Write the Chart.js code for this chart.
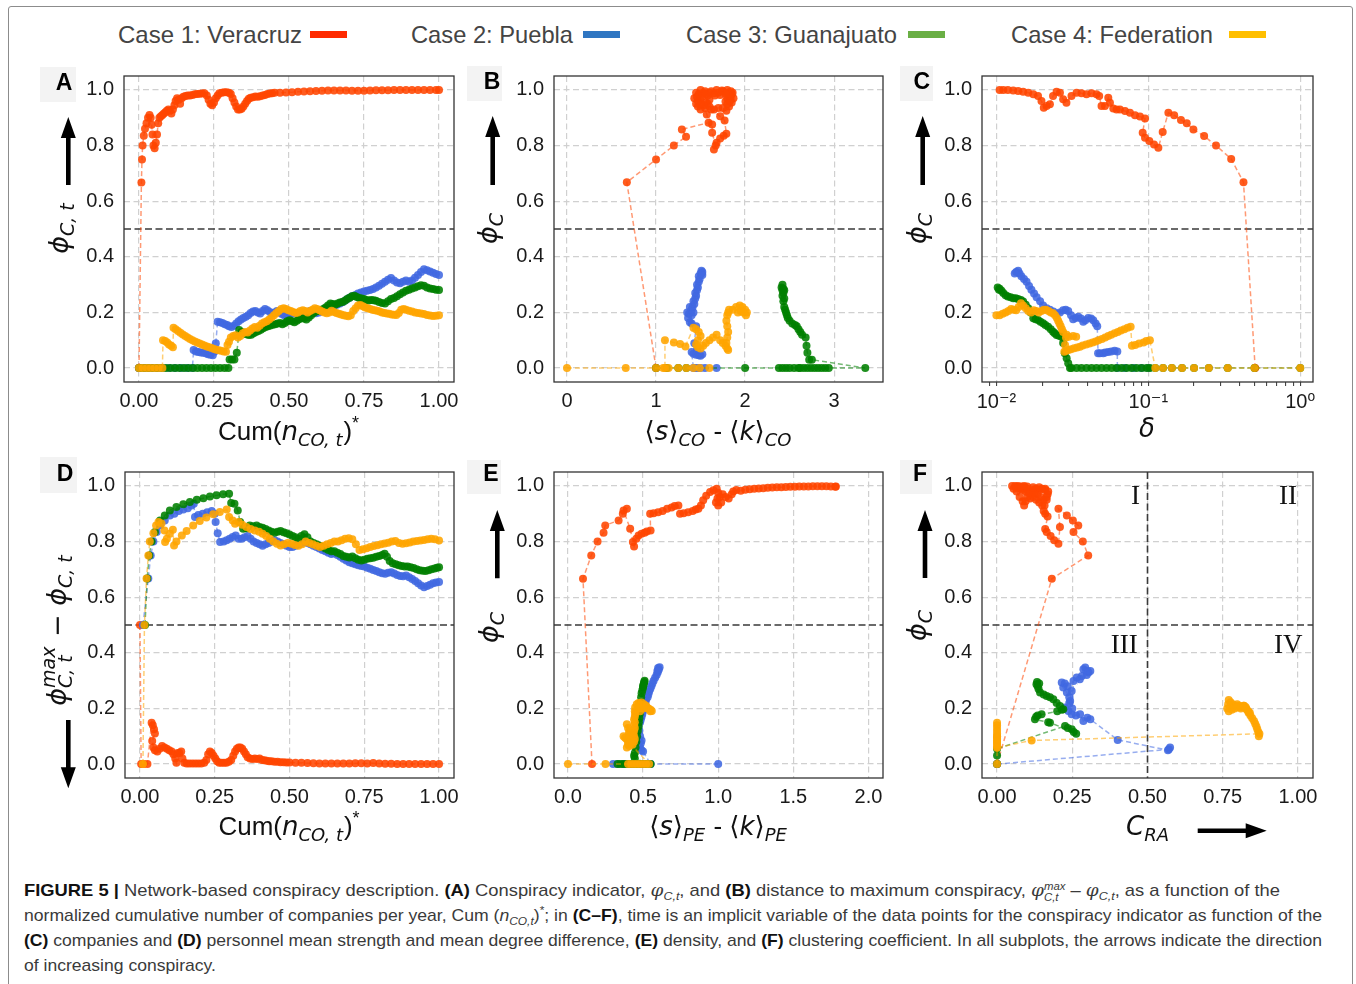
<!DOCTYPE html>
<html>
<head>
<meta charset="utf-8">
<script src="https://cdn.jsdelivr.net/npm/chart.js"></script>
<style>
  body { margin: 0; background: #fff; }
  #fig { position: relative; width: 1356px; height: 984px; overflow: hidden; background: #fff; }
  .frame { position: absolute; left: 8px; top: 6px; width: 1343px; height: 1000px; border: 1px solid #8c8c8c; border-radius: 3px; }
  .lg { position: absolute; top: 21px; font: 24px/28px "Liberation Sans Narrow", "Liberation Sans", Arial, sans-serif; color: #444; white-space: nowrap; transform-origin: 0 50%; }
  .sw { position: absolute; top: 31px; width: 37px; height: 7px; }
  .cap { position: absolute; left: 24px; white-space: nowrap; font: 17px/20px "Liberation Sans Narrow", "Liberation Sans", Arial, sans-serif; color: #3a3a3a; transform-origin: 0 50%; }
  .cap b { color: #111; }
  .cap sub, .cap sup { font-size: 0.68em; line-height: 0; }
  .cap .m { font-family: "DejaVu Serif", serif; font-style: italic; }
  .ss { display: inline-flex; flex-direction: column; vertical-align: middle; font-size: 0.62em; line-height: 1; font-style: italic; }
</style>
</head>
<body>
<div id="fig">
  <div class="frame"></div>

  <span class="lg" id="lg1" style="left:118px">Case 1: Veracruz</span>
  <div class="sw" style="left:310px;background:#ff2a00"></div>
  <span class="lg" id="lg2" style="left:411px">Case 2: Puebla</span>
  <div class="sw" style="left:583px;background:#2f76c2"></div>
  <span class="lg" id="lg3" style="left:686px">Case 3: Guanajuato</span>
  <div class="sw" style="left:908px;background:#6aaf45"></div>
  <span class="lg" id="lg4" style="left:1011px">Case 4: Federation</span>
  <div class="sw" style="left:1229px;background:#ffbf00"></div>

  <div class="cap" id="cap1" style="top:880px"><b>FIGURE 5 |</b> Network-based conspiracy description. <b>(A)</b> Conspiracy indicator, <i class="m">φ</i><sub><i>C,t</i></sub>, and <b>(B)</b> distance to maximum conspiracy, <i class="m">φ</i><span class="ss"><span>max</span><span>C,t</span></span> – <i class="m">φ</i><sub><i>C,t</i></sub>, as a function of the</div>
  <div class="cap" id="cap2" style="top:906px">normalized cumulative number of companies per year, Cum (<i>n</i><sub><i>CO,t</i></sub>)<sup>*</sup>; in <b>(C–F)</b>, time is an implicit variable of the data points for the conspiracy indicator as function of the</div>
  <div class="cap" id="cap3" style="top:931px"><b>(C)</b> companies and <b>(D)</b> personnel mean strength and mean degree difference, <b>(E)</b> density, and <b>(F)</b> clustering coefficient. In all subplots, the arrows indicate the direction</div>
  <div class="cap" id="cap4" style="top:956px">of increasing conspiracy.</div>
</div>

<script>
// ---- data: [x, y] per case ----
const A_VERACRUZ = [[0,0],[0.008,0.667],[0.01,0.75],[0.012,0.8],[0.016,0.835],[0.02,0.86],[0.025,0.88],[0.03,0.9],[0.035,0.91],[0.039,0.9],[0.042,0.875],[0.045,0.84],[0.048,0.8],[0.052,0.79],[0.056,0.81],[0.06,0.84],[0.064,0.88],[0.068,0.9],[0.073,0.905],[0.078,0.91],[0.083,0.915],[0.088,0.92],[0.093,0.925],[0.098,0.93],[0.103,0.925],[0.108,0.915],[0.113,0.93],[0.118,0.945],[0.122,0.96],[0.127,0.97],[0.132,0.965],[0.137,0.95],[0.142,0.97],[0.148,0.975],[0.155,0.978],[0.162,0.98],[0.17,0.98],[0.178,0.982],[0.186,0.984],[0.194,0.985],[0.202,0.986],[0.21,0.987],[0.218,0.988],[0.226,0.98],[0.232,0.965],[0.238,0.95],[0.244,0.945],[0.25,0.955],[0.256,0.97],[0.262,0.98],[0.268,0.988],[0.276,0.99],[0.284,0.992],[0.292,0.992],[0.3,0.99],[0.306,0.985],[0.312,0.97],[0.318,0.955],[0.324,0.94],[0.33,0.93],[0.336,0.93],[0.342,0.932],[0.348,0.94],[0.354,0.95],[0.36,0.96],[0.366,0.968],[0.372,0.972],[0.38,0.974],[0.388,0.976],[0.396,0.975],[0.404,0.977],[0.412,0.98],[0.42,0.982],[0.428,0.985],[0.436,0.987],[0.444,0.988],[0.452,0.99],[0.47,0.99],[0.49,0.991],[0.51,0.992],[0.53,0.993],[0.55,0.994],[0.57,0.995],[0.59,0.996],[0.61,0.997],[0.63,0.998],[0.65,0.998],[0.67,0.998],[0.69,0.998],[0.71,0.997],[0.73,0.997],[0.75,0.997],[0.77,0.998],[0.79,0.999],[0.81,0.999],[0.83,0.999],[0.85,1],[0.87,1],[0.89,1],[0.91,1],[0.93,1],[0.95,1],[0.97,1],[0.99,1],[1,1]];
const A_PUEBLA = [[0,0],[0.02,0],[0.04,0],[0.06,0],[0.08,0],[0.1,0],[0.12,0],[0.14,0],[0.16,0],[0.178,0],[0.182,0.065],[0.19,0.06],[0.198,0.058],[0.206,0.056],[0.214,0.055],[0.222,0.053],[0.23,0.05],[0.238,0.048],[0.246,0.046],[0.252,0.06],[0.256,0.089],[0.262,0.167],[0.27,0.165],[0.278,0.162],[0.286,0.158],[0.294,0.155],[0.3,0.15],[0.308,0.148],[0.316,0.152],[0.324,0.16],[0.332,0.168],[0.34,0.175],[0.348,0.18],[0.356,0.185],[0.364,0.19],[0.372,0.198],[0.38,0.203],[0.388,0.205],[0.396,0.2],[0.404,0.196],[0.412,0.205],[0.42,0.212],[0.428,0.208],[0.436,0.202],[0.444,0.198],[0.452,0.2],[0.46,0.205],[0.468,0.2],[0.476,0.194],[0.484,0.19],[0.492,0.188],[0.5,0.19],[0.51,0.195],[0.52,0.198],[0.53,0.195],[0.54,0.19],[0.55,0.195],[0.56,0.2],[0.57,0.205],[0.58,0.2],[0.59,0.197],[0.6,0.2],[0.61,0.205],[0.62,0.21],[0.63,0.215],[0.64,0.22],[0.65,0.225],[0.66,0.228],[0.67,0.232],[0.68,0.238],[0.69,0.245],[0.7,0.252],[0.71,0.258],[0.72,0.262],[0.73,0.268],[0.74,0.272],[0.75,0.275],[0.76,0.278],[0.77,0.281],[0.78,0.284],[0.79,0.29],[0.8,0.296],[0.81,0.303],[0.82,0.31],[0.83,0.318],[0.84,0.324],[0.85,0.315],[0.86,0.308],[0.87,0.305],[0.88,0.31],[0.89,0.315],[0.9,0.31],[0.91,0.315],[0.92,0.325],[0.93,0.335],[0.94,0.345],[0.95,0.355],[0.96,0.352],[0.97,0.347],[0.98,0.343],[0.99,0.338],[1,0.335]];
const A_GUANAJUATO = [[0,0],[0.015,0],[0.03,0],[0.045,0],[0.06,0],[0.075,0],[0.09,0],[0.105,0],[0.12,0],[0.135,0],[0.15,0],[0.165,0],[0.18,0],[0.195,0],[0.21,0],[0.225,0],[0.24,0],[0.255,0],[0.27,0],[0.285,0],[0.298,0],[0.302,0.031],[0.31,0.031],[0.318,0.031],[0.326,0.055],[0.334,0.137],[0.342,0.13],[0.35,0.125],[0.358,0.122],[0.366,0.119],[0.374,0.12],[0.382,0.125],[0.39,0.13],[0.398,0.133],[0.406,0.138],[0.414,0.143],[0.422,0.148],[0.43,0.15],[0.438,0.153],[0.446,0.156],[0.454,0.158],[0.462,0.16],[0.47,0.162],[0.478,0.158],[0.486,0.162],[0.494,0.168],[0.502,0.172],[0.51,0.168],[0.518,0.165],[0.526,0.17],[0.534,0.176],[0.542,0.18],[0.55,0.178],[0.558,0.175],[0.566,0.182],[0.574,0.19],[0.582,0.198],[0.59,0.203],[0.598,0.205],[0.606,0.208],[0.614,0.212],[0.622,0.218],[0.63,0.225],[0.638,0.232],[0.646,0.23],[0.654,0.228],[0.662,0.232],[0.67,0.236],[0.678,0.238],[0.686,0.242],[0.694,0.248],[0.702,0.253],[0.71,0.258],[0.718,0.26],[0.726,0.256],[0.734,0.252],[0.742,0.25],[0.75,0.248],[0.758,0.245],[0.766,0.243],[0.774,0.245],[0.782,0.244],[0.79,0.242],[0.8,0.238],[0.81,0.234],[0.82,0.232],[0.83,0.24],[0.84,0.248],[0.85,0.252],[0.86,0.258],[0.87,0.265],[0.88,0.272],[0.89,0.278],[0.9,0.282],[0.91,0.286],[0.92,0.29],[0.93,0.294],[0.94,0.298],[0.95,0.296],[0.96,0.29],[0.97,0.286],[0.98,0.284],[0.99,0.282],[1,0.281]];
const A_FEDERATION = [[0,0],[0.013,0],[0.026,0],[0.039,0],[0.052,0],[0.065,0],[0.078,0],[0.08,0.1],[0.087,0.097],[0.094,0.092],[0.1,0.085],[0.107,0.08],[0.113,0.075],[0.115,0.145],[0.122,0.14],[0.13,0.133],[0.138,0.127],[0.146,0.121],[0.154,0.115],[0.162,0.11],[0.17,0.105],[0.178,0.1],[0.186,0.096],[0.194,0.092],[0.202,0.088],[0.21,0.085],[0.218,0.081],[0.226,0.078],[0.234,0.075],[0.242,0.072],[0.25,0.069],[0.258,0.066],[0.266,0.064],[0.274,0.062],[0.282,0.06],[0.29,0.059],[0.295,0.083],[0.3,0.095],[0.306,0.11],[0.314,0.115],[0.322,0.118],[0.33,0.11],[0.338,0.115],[0.346,0.125],[0.354,0.13],[0.362,0.128],[0.37,0.135],[0.378,0.142],[0.386,0.148],[0.394,0.145],[0.402,0.152],[0.41,0.16],[0.418,0.165],[0.426,0.168],[0.434,0.175],[0.442,0.182],[0.45,0.19],[0.458,0.198],[0.466,0.205],[0.474,0.212],[0.482,0.215],[0.49,0.212],[0.498,0.208],[0.506,0.205],[0.514,0.202],[0.522,0.198],[0.53,0.2],[0.538,0.205],[0.546,0.208],[0.554,0.205],[0.562,0.2],[0.57,0.205],[0.578,0.21],[0.586,0.215],[0.594,0.212],[0.602,0.208],[0.61,0.203],[0.618,0.2],[0.626,0.197],[0.634,0.2],[0.642,0.206],[0.65,0.202],[0.658,0.198],[0.666,0.195],[0.674,0.193],[0.682,0.19],[0.69,0.188],[0.698,0.186],[0.706,0.19],[0.714,0.205],[0.722,0.215],[0.73,0.225],[0.738,0.227],[0.746,0.222],[0.754,0.218],[0.762,0.215],[0.77,0.212],[0.778,0.21],[0.786,0.208],[0.794,0.206],[0.802,0.203],[0.81,0.2],[0.818,0.198],[0.826,0.196],[0.834,0.195],[0.842,0.193],[0.85,0.192],[0.858,0.191],[0.866,0.198],[0.874,0.21],[0.882,0.212],[0.89,0.21],[0.9,0.206],[0.91,0.203],[0.92,0.2],[0.93,0.198],[0.94,0.196],[0.95,0.194],[0.96,0.191],[0.97,0.189],[0.98,0.187],[0.99,0.188],[1,0.19]];

const B_VERACRUZ = [[1,0],[0.672,0.668],[1,0.75],[1.2,0.8],[1.337,0.832],[1.29,0.858],[1.59,0.882],[1.57,0.912],[1.63,0.876],[1.63,0.846],[1.67,0.8],[1.65,0.786],[1.68,0.81],[1.72,0.825],[1.76,0.835],[1.79,0.842],[1.77,0.89],[1.72,0.905],[1.62,0.93],[1.55,0.935],[1.5,0.93],[1.47,0.94],[1.45,0.95],[1.43,0.97],[1.45,0.99],[1.5,1],[1.55,0.995],[1.6,0.99],[1.65,0.988],[1.7,0.99],[1.75,0.995],[1.8,0.99],[1.85,0.985],[1.87,0.97],[1.85,0.955],[1.82,0.94],[1.79,0.925],[1.75,0.935],[1.7,0.935],[1.65,0.93],[1.6,0.94],[1.56,0.955],[1.5,0.965],[1.46,0.975],[1.48,0.985],[1.53,0.99],[1.58,0.98],[1.6,0.965],[1.58,0.95],[1.53,0.945],[1.5,0.95],[1.47,0.96],[1.52,0.975],[1.56,0.985],[1.62,0.995],[1.68,1],[1.74,0.998],[1.8,1],[1.84,0.995],[1.86,0.99],[1.84,0.975],[1.8,0.97],[1.78,0.958],[1.8,0.948],[1.83,0.96],[1.82,0.98],[1.78,0.985],[1.72,0.982],[1.66,0.98]];
const B_PUEBLA = [[1.68,0],[1.55,0],[1.5,0],[1.47,0],[1.44,0],[1.42,0],[1.4,0.058],[1.42,0.052],[1.45,0.048],[1.48,0.046],[1.5,0.044],[1.52,0.05],[1.46,0.065],[1.43,0.089],[1.45,0.15],[1.4,0.16],[1.38,0.165],[1.36,0.18],[1.35,0.2],[1.37,0.195],[1.4,0.19],[1.42,0.2],[1.4,0.21],[1.38,0.22],[1.41,0.22],[1.43,0.23],[1.42,0.24],[1.44,0.25],[1.45,0.26],[1.44,0.27],[1.46,0.28],[1.47,0.29],[1.46,0.3],[1.48,0.31],[1.49,0.32],[1.48,0.33],[1.5,0.34],[1.51,0.35],[1.52,0.345],[1.51,0.34],[1.52,0.335]];
const B_GUANAJUATO = [[1,0],[1.12,0],[1.25,0],[1.34,0],[2,0],[2.38,0],[2.42,0],[2.46,0],[2.5,0],[2.55,0],[2.6,0],[2.62,0],[2.66,0],[2.7,0],[2.74,0],[2.78,0],[2.82,0],[2.86,0],[2.9,0],[2.94,0],[3.35,0],[2.75,0.03],[2.72,0.03],[2.7,0.055],[2.69,0.08],[2.68,0.11],[2.64,0.12],[2.62,0.13],[2.6,0.14],[2.58,0.15],[2.56,0.155],[2.53,0.16],[2.5,0.17],[2.48,0.18],[2.47,0.19],[2.46,0.2],[2.45,0.21],[2.44,0.22],[2.43,0.24],[2.44,0.25],[2.42,0.26],[2.43,0.27],[2.42,0.28],[2.41,0.29],[2.42,0.3],[2.43,0.285],[2.44,0.28]];
const B_FEDERATION = [[0,0],[0.66,0],[1,0],[1.14,0],[1.25,0],[1.34,0],[1.42,0],[1.49,0],[1.6,0],[1.08,0],[1.1,0],[1.1,0.1],[1.2,0.092],[1.27,0.087],[1.33,0.078],[1.42,0.145],[1.45,0.14],[1.48,0.13],[1.5,0.115],[1.47,0.1],[1.45,0.085],[1.47,0.075],[1.5,0.07],[1.53,0.08],[1.56,0.09],[1.6,0.1],[1.64,0.11],[1.68,0.12],[1.72,0.1],[1.75,0.09],[1.78,0.08],[1.8,0.07],[1.81,0.065],[1.79,0.09],[1.8,0.11],[1.81,0.13],[1.8,0.15],[1.79,0.17],[1.8,0.19],[1.81,0.2],[1.82,0.21],[1.86,0.21],[1.9,0.22],[1.94,0.225],[1.97,0.22],[2,0.21],[2.02,0.2],[2.01,0.19],[1.98,0.2],[1.95,0.205],[1.92,0.2]];

const C_VERACRUZ = [[0.505,0],[0.423,0.668],[0.351,0.752],[0.279,0.8],[0.233,0.834],[0.198,0.858],[0.179,0.88],[0.164,0.892],[0.148,0.909],[0.1355,0.918],[0.1243,0.849],[0.1164,0.792],[0.109,0.804],[0.1015,0.816],[0.0951,0.828],[0.0918,0.846],[0.0951,0.897],[0.0881,0.904],[0.0817,0.909],[0.0757,0.918],[0.0702,0.924],[0.065,0.93],[0.0618,0.93],[0.0588,0.933],[0.0559,0.954],[0.0545,0.972],[0.0518,0.942],[0.0492,0.942],[0.0475,0.978],[0.0456,0.984],[0.0423,0.988],[0.0392,0.984],[0.0363,0.988],[0.0337,0.99],[0.0312,0.978],[0.0289,0.954],[0.0275,0.966],[0.0262,0.99],[0.0249,0.993],[0.0236,0.978],[0.0225,0.948],[0.0214,0.942],[0.0205,0.936],[0.0198,0.96],[0.0188,0.978],[0.0175,0.984],[0.0162,0.99],[0.015,0.993],[0.0139,0.996],[0.0129,0.998],[0.0119,1],[0.0111,1],[0.0105,1]];
const C_PUEBLA = [[0.1,0],[0.09,0],[0.08,0],[0.07,0],[0.0625,0],[0.0625,0.06],[0.06,0.062],[0.057,0.06],[0.0545,0.058],[0.052,0.056],[0.0505,0.053],[0.048,0.053],[0.0467,0.053],[0.0461,0.15],[0.045,0.16],[0.0434,0.172],[0.042,0.178],[0.0402,0.18],[0.0385,0.172],[0.0373,0.167],[0.036,0.178],[0.0346,0.185],[0.0333,0.18],[0.032,0.176],[0.031,0.19],[0.0297,0.205],[0.0286,0.21],[0.0275,0.208],[0.0262,0.2],[0.0249,0.196],[0.0237,0.203],[0.0225,0.21],[0.0214,0.215],[0.0203,0.225],[0.0194,0.24],[0.0184,0.255],[0.0177,0.268],[0.017,0.282],[0.0164,0.295],[0.0158,0.31],[0.0152,0.32],[0.0146,0.33],[0.0142,0.34],[0.0139,0.35],[0.0135,0.345],[0.0132,0.34]];
const C_GUANAJUATO = [[1,0],[0.5,0],[0.333,0],[0.25,0],[0.2,0],[0.1667,0],[0.1429,0],[0.125,0],[0.1111,0],[0.1024,0],[0.0974,0],[0.0903,0],[0.0837,0],[0.0776,0],[0.0719,0],[0.0667,0],[0.0618,0],[0.0573,0],[0.0531,0],[0.0492,0],[0.0456,0],[0.0423,0],[0.0392,0],[0.0363,0],[0.0337,0],[0.0312,0],[0.0305,0],[0.0297,0.017],[0.029,0.035],[0.0282,0.053],[0.0275,0.09],[0.0268,0.113],[0.0258,0.116],[0.0249,0.119],[0.0242,0.125],[0.0236,0.131],[0.0228,0.14],[0.0219,0.149],[0.021,0.155],[0.0203,0.161],[0.0195,0.167],[0.0188,0.173],[0.0181,0.176],[0.0175,0.179],[0.0168,0.2],[0.0162,0.215],[0.0156,0.228],[0.015,0.239],[0.0145,0.245],[0.0139,0.248],[0.0134,0.251],[0.0129,0.251],[0.0124,0.255],[0.0119,0.257],[0.0115,0.262],[0.0111,0.27],[0.0108,0.278],[0.0105,0.285],[0.0102,0.29],[0.0104,0.282]];
const C_FEDERATION = [[1,0],[0.5,0],[0.3333,0],[0.25,0],[0.2,0],[0.1667,0],[0.1429,0],[0.125,0],[0.1111,0],[0.1024,0.1],[0.097,0.097],[0.093,0.092],[0.087,0.088],[0.082,0.083],[0.078,0.08],[0.0765,0.149],[0.073,0.145],[0.0695,0.14],[0.066,0.135],[0.063,0.13],[0.06,0.125],[0.057,0.12],[0.0545,0.115],[0.052,0.11],[0.0495,0.105],[0.047,0.1],[0.045,0.096],[0.043,0.092],[0.041,0.088],[0.039,0.085],[0.037,0.081],[0.0355,0.077],[0.034,0.074],[0.0325,0.071],[0.031,0.068],[0.0298,0.065],[0.0288,0.062],[0.028,0.059],[0.0283,0.083],[0.0287,0.11],[0.03,0.113],[0.032,0.115],[0.0335,0.113],[0.029,0.12],[0.0275,0.13],[0.027,0.14],[0.0265,0.15],[0.026,0.16],[0.0255,0.17],[0.025,0.18],[0.0243,0.19],[0.0236,0.197],[0.0228,0.2],[0.022,0.205],[0.0212,0.21],[0.0205,0.21],[0.0198,0.205],[0.019,0.2],[0.0183,0.205],[0.0176,0.208],[0.0169,0.2],[0.0162,0.205],[0.0156,0.215],[0.015,0.225],[0.0145,0.233],[0.014,0.22],[0.0135,0.208],[0.013,0.21],[0.0125,0.212],[0.012,0.205],[0.0115,0.2],[0.011,0.195],[0.0105,0.19],[0.01,0.19]];

const D_VERACRUZ = [[0,0.5],[0.004,0],[0.012,0],[0.025,0],[0.039,0.149],[0.043,0.14],[0.047,0.125],[0.05,0.11],[0.041,0.083],[0.045,0.06],[0.05,0.05],[0.058,0.045],[0.066,0.055],[0.074,0.065],[0.082,0.06],[0.09,0.055],[0.098,0.05],[0.106,0.045],[0.112,0.035],[0.118,0.02],[0.122,0.005],[0.126,0.04],[0.132,0.04],[0.138,0.045],[0.142,0.02],[0.148,0.005],[0.156,0.002],[0.165,0.002],[0.175,0.002],[0.185,0.002],[0.195,0.002],[0.205,0.002],[0.215,0.005],[0.222,0.015],[0.228,0.035],[0.234,0.045],[0.24,0.04],[0.246,0.03],[0.252,0.02],[0.258,0.01],[0.265,0.005],[0.273,0.005],[0.281,0.005],[0.289,0.005],[0.297,0.008],[0.305,0.015],[0.312,0.03],[0.318,0.045],[0.324,0.055],[0.33,0.06],[0.336,0.06],[0.342,0.055],[0.348,0.045],[0.354,0.035],[0.36,0.025],[0.368,0.02],[0.376,0.018],[0.384,0.02],[0.392,0.018],[0.4,0.02],[0.408,0.015],[0.416,0.014],[0.424,0.012],[0.432,0.01],[0.44,0.01],[0.45,0.008],[0.46,0.008],[0.47,0.007],[0.48,0.007],[0.49,0.006],[0.5,0.006],[0.52,0.005],[0.54,0.005],[0.56,0.004],[0.58,0.003],[0.6,0.002],[0.62,0.002],[0.64,0.002],[0.66,0.002],[0.68,0.002],[0.7,0.002],[0.72,0.003],[0.74,0.003],[0.76,0.002],[0.78,0.004],[0.8,0.002],[0.82,0.001],[0.84,0.001],[0.86,0],[0.88,0],[0.9,0],[0.92,0],[0.94,0],[0.96,0],[0.98,0],[1,0]];
const D_PUEBLA = [[0.01,0.5],[0.028,0.667],[0.036,0.75],[0.045,0.8],[0.056,0.834],[0.067,0.858],[0.083,0.876],[0.1,0.894],[0.115,0.9],[0.13,0.91],[0.145,0.915],[0.16,0.92],[0.172,0.93],[0.18,0.936],[0.184,0.888],[0.195,0.895],[0.21,0.9],[0.225,0.905],[0.24,0.91],[0.25,0.9],[0.253,0.87],[0.26,0.83],[0.268,0.798],[0.28,0.8],[0.29,0.805],[0.3,0.81],[0.31,0.816],[0.32,0.822],[0.33,0.81],[0.34,0.81],[0.35,0.815],[0.36,0.82],[0.37,0.81],[0.38,0.8],[0.39,0.795],[0.4,0.79],[0.41,0.785],[0.42,0.79],[0.43,0.795],[0.44,0.8],[0.45,0.805],[0.46,0.8],[0.47,0.795],[0.48,0.79],[0.49,0.785],[0.5,0.78],[0.51,0.78],[0.52,0.785],[0.53,0.79],[0.54,0.795],[0.55,0.8],[0.56,0.795],[0.57,0.79],[0.58,0.785],[0.59,0.78],[0.6,0.775],[0.61,0.77],[0.62,0.765],[0.63,0.76],[0.64,0.755],[0.65,0.758],[0.66,0.752],[0.67,0.745],[0.68,0.738],[0.69,0.732],[0.7,0.726],[0.71,0.722],[0.72,0.718],[0.73,0.715],[0.74,0.712],[0.75,0.71],[0.76,0.706],[0.77,0.702],[0.78,0.698],[0.79,0.694],[0.8,0.69],[0.81,0.686],[0.82,0.684],[0.83,0.688],[0.84,0.69],[0.85,0.685],[0.86,0.68],[0.87,0.676],[0.88,0.675],[0.89,0.678],[0.9,0.672],[0.91,0.665],[0.92,0.658],[0.93,0.65],[0.94,0.642],[0.95,0.636],[0.96,0.64],[0.97,0.645],[0.98,0.65],[0.99,0.653],[1,0.655]];
const D_GUANAJUATO = [[0.017,0.5],[0.024,0.667],[0.031,0.75],[0.039,0.8],[0.05,0.834],[0.067,0.876],[0.083,0.894],[0.1,0.912],[0.122,0.924],[0.145,0.934],[0.167,0.942],[0.19,0.95],[0.212,0.956],[0.234,0.962],[0.256,0.966],[0.278,0.97],[0.298,0.972],[0.305,0.939],[0.316,0.936],[0.327,0.912],[0.335,0.87],[0.345,0.846],[0.356,0.848],[0.367,0.858],[0.378,0.855],[0.39,0.858],[0.4,0.852],[0.41,0.85],[0.42,0.845],[0.43,0.84],[0.44,0.835],[0.45,0.832],[0.46,0.835],[0.47,0.838],[0.48,0.833],[0.49,0.83],[0.5,0.825],[0.51,0.82],[0.52,0.815],[0.53,0.81],[0.54,0.82],[0.55,0.826],[0.56,0.815],[0.57,0.8],[0.58,0.795],[0.59,0.79],[0.6,0.785],[0.61,0.78],[0.62,0.775],[0.63,0.77],[0.64,0.765],[0.65,0.765],[0.66,0.76],[0.67,0.755],[0.68,0.748],[0.69,0.745],[0.7,0.743],[0.71,0.746],[0.72,0.74],[0.73,0.735],[0.74,0.732],[0.75,0.735],[0.76,0.738],[0.77,0.74],[0.78,0.742],[0.79,0.745],[0.8,0.748],[0.81,0.752],[0.818,0.756],[0.826,0.745],[0.835,0.73],[0.845,0.722],[0.855,0.718],[0.865,0.715],[0.875,0.712],[0.885,0.71],[0.895,0.71],[0.905,0.708],[0.915,0.705],[0.925,0.7],[0.935,0.697],[0.945,0.695],[0.955,0.694],[0.965,0.697],[0.975,0.7],[0.985,0.703],[0.993,0.706],[1,0.708]];
const D_FEDERATION = [[0.01,0],[0.015,0.5],[0.022,0.667],[0.028,0.75],[0.033,0.8],[0.045,0.83],[0.054,0.858],[0.062,0.87],[0.072,0.865],[0.082,0.84],[0.09,0.81],[0.084,0.798],[0.1,0.828],[0.11,0.842],[0.114,0.786],[0.122,0.8],[0.14,0.822],[0.156,0.838],[0.178,0.858],[0.2,0.874],[0.222,0.886],[0.245,0.898],[0.267,0.906],[0.29,0.915],[0.298,0.888],[0.31,0.876],[0.318,0.864],[0.33,0.87],[0.342,0.86],[0.356,0.852],[0.37,0.845],[0.384,0.84],[0.398,0.835],[0.41,0.828],[0.422,0.82],[0.434,0.81],[0.446,0.8],[0.458,0.792],[0.47,0.786],[0.482,0.79],[0.494,0.795],[0.506,0.792],[0.518,0.788],[0.53,0.785],[0.542,0.79],[0.554,0.8],[0.566,0.795],[0.578,0.79],[0.59,0.785],[0.602,0.78],[0.614,0.785],[0.626,0.79],[0.638,0.795],[0.65,0.8],[0.662,0.8],[0.674,0.805],[0.686,0.81],[0.698,0.812],[0.71,0.808],[0.722,0.79],[0.734,0.77],[0.746,0.772],[0.758,0.776],[0.77,0.78],[0.782,0.784],[0.794,0.787],[0.806,0.79],[0.818,0.793],[0.83,0.796],[0.842,0.8],[0.854,0.802],[0.866,0.795],[0.878,0.792],[0.89,0.794],[0.902,0.797],[0.914,0.8],[0.926,0.802],[0.938,0.804],[0.95,0.806],[0.962,0.808],[0.974,0.81],[0.986,0.808],[1,0.804]];

const E_VERACRUZ = [[0.16,0],[0.1,0.666],[0.155,0.75],[0.197,0.8],[0.237,0.832],[0.248,0.858],[0.337,0.876],[0.365,0.9],[0.392,0.918],[0.37,0.912],[0.414,0.846],[0.432,0.798],[0.44,0.782],[0.455,0.81],[0.47,0.822],[0.49,0.828],[0.51,0.832],[0.525,0.836],[0.55,0.84],[0.547,0.9],[0.57,0.902],[0.6,0.905],[0.63,0.91],[0.66,0.918],[0.69,0.922],[0.71,0.928],[0.735,0.93],[0.746,0.9],[0.77,0.902],[0.8,0.905],[0.83,0.91],[0.85,0.915],[0.868,0.918],[0.885,0.93],[0.9,0.948],[0.92,0.965],[0.946,0.978],[0.968,0.984],[0.99,0.99],[1,0.975],[0.995,0.955],[0.985,0.94],[1,0.93],[1.02,0.94],[1.01,0.96],[1.03,0.97],[1.05,0.96],[1.07,0.955],[1.09,0.97],[1.1,0.98],[1.12,0.985],[1.15,0.983],[1.18,0.986],[1.21,0.988],[1.24,0.99],[1.27,0.991],[1.3,0.992],[1.33,0.993],[1.36,0.994],[1.39,0.995],[1.42,0.995],[1.45,0.996],[1.48,0.997],[1.51,0.997],[1.54,0.998],[1.57,0.998],[1.6,0.998],[1.63,0.999],[1.66,0.999],[1.69,0.999],[1.72,0.999],[1.75,0.998],[1.78,0.997],[1.783,0.998]];
const E_PUEBLA = [[1,0],[0.3,0],[0.33,0],[0.37,0],[0.4,0],[0.43,0],[0.46,0],[0.49,0],[0.52,0],[0.55,0],[0.5,0.045],[0.49,0.05],[0.48,0.06],[0.485,0.075],[0.49,0.085],[0.48,0.1],[0.475,0.12],[0.47,0.135],[0.48,0.15],[0.485,0.16],[0.49,0.17],[0.495,0.18],[0.5,0.19],[0.505,0.2],[0.51,0.21],[0.515,0.22],[0.52,0.23],[0.53,0.24],[0.535,0.25],[0.54,0.26],[0.548,0.27],[0.555,0.28],[0.562,0.29],[0.57,0.3],[0.58,0.31],[0.59,0.32],[0.598,0.33],[0.605,0.34],[0.61,0.348],[0.6,0.345],[0.595,0.335]];
const E_GUANAJUATO = [[0.33,0],[0.35,0],[0.37,0],[0.39,0],[0.41,0],[0.43,0],[0.45,0],[0.47,0],[0.49,0],[0.51,0],[0.53,0],[0.55,0],[0.445,0.02],[0.44,0.03],[0.445,0.04],[0.45,0.06],[0.455,0.08],[0.46,0.1],[0.465,0.12],[0.47,0.135],[0.472,0.15],[0.475,0.165],[0.478,0.18],[0.48,0.2],[0.483,0.22],[0.487,0.24],[0.49,0.255],[0.495,0.265],[0.5,0.275],[0.503,0.285],[0.508,0.295],[0.51,0.3],[0.505,0.29],[0.5,0.28]];
const E_FEDERATION = [[0,0],[0.25,0],[0.4,0],[0.42,0],[0.44,0],[0.46,0],[0.48,0],[0.5,0],[0.52,0],[0.54,0],[0.37,0.1],[0.38,0.095],[0.39,0.09],[0.4,0.08],[0.392,0.143],[0.4,0.13],[0.41,0.12],[0.405,0.11],[0.41,0.1],[0.42,0.09],[0.415,0.08],[0.4,0.07],[0.392,0.06],[0.41,0.065],[0.43,0.07],[0.44,0.08],[0.445,0.09],[0.44,0.1],[0.435,0.11],[0.44,0.12],[0.445,0.13],[0.44,0.14],[0.445,0.15],[0.44,0.16],[0.445,0.17],[0.447,0.18],[0.445,0.19],[0.447,0.203],[0.458,0.215],[0.47,0.22],[0.49,0.221],[0.505,0.215],[0.52,0.205],[0.535,0.2],[0.55,0.195],[0.558,0.191],[0.548,0.19],[0.535,0.2],[0.52,0.21],[0.5,0.2],[0.48,0.19],[0.47,0.2]];

const F_VERACRUZ = [[0,0],[0.182,0.666],[0.303,0.75],[0.285,0.8],[0.254,0.834],[0.27,0.858],[0.252,0.876],[0.232,0.894],[0.204,0.918],[0.209,0.852],[0.204,0.792],[0.19,0.805],[0.178,0.82],[0.165,0.834],[0.16,0.845],[0.168,0.89],[0.16,0.9],[0.155,0.91],[0.158,0.93],[0.165,0.95],[0.168,0.97],[0.16,0.985],[0.15,0.99],[0.14,0.985],[0.13,0.99],[0.12,0.985],[0.11,0.98],[0.1,0.99],[0.09,0.995],[0.08,0.99],[0.07,0.995],[0.06,1],[0.05,1],[0.055,0.99],[0.065,0.98],[0.075,0.96],[0.085,0.945],[0.09,0.93],[0.095,0.945],[0.1,0.96],[0.11,0.955],[0.12,0.96],[0.13,0.95],[0.14,0.94],[0.15,0.93],[0.155,0.95],[0.145,0.96],[0.135,0.97],[0.125,0.975],[0.115,0.97],[0.105,0.975],[0.095,0.98],[0.085,0.985],[0.075,0.99],[0.065,0.995],[0.07,1],[0.08,0.998],[0.09,1],[0.1,0.998],[0.12,0.995],[0.14,0.995],[0.16,0.99],[0.17,0.98],[0.165,0.96]];
const F_PUEBLA = [[0,0],[0.571,0.053],[0.575,0.06],[0.568,0.05],[0.401,0.087],[0.31,0.161],[0.3,0.167],[0.287,0.155],[0.276,0.179],[0.262,0.175],[0.248,0.179],[0.237,0.191],[0.226,0.203],[0.243,0.227],[0.24,0.24],[0.232,0.257],[0.22,0.275],[0.215,0.293],[0.225,0.29],[0.235,0.28],[0.248,0.263],[0.24,0.22],[0.25,0.2],[0.254,0.299],[0.265,0.311],[0.282,0.317],[0.275,0.305],[0.287,0.341],[0.293,0.347],[0.304,0.329],[0.298,0.32],[0.31,0.335],[0.3,0.335]];
const F_GUANAJUATO = [[0,0],[0,0.031],[0,0.055],[0.226,0.137],[0.235,0.13],[0.248,0.125],[0.263,0.109],[0.255,0.115],[0.176,0.149],[0.17,0.15],[0.126,0.161],[0.13,0.17],[0.148,0.179],[0.135,0.175],[0.2,0.19],[0.215,0.195],[0.22,0.197],[0.209,0.209],[0.198,0.22],[0.187,0.233],[0.176,0.24],[0.165,0.245],[0.155,0.25],[0.143,0.257],[0.138,0.27],[0.131,0.287],[0.135,0.28],[0.14,0.29],[0.133,0.295]];
const F_FEDERATION = [[0,0],[0,0.1],[0,0.09],[0,0.077],[0,0.149],[0,0.14],[0,0.13],[0,0.12],[0,0.11],[0,0.1],[0,0.09],[0,0.08],[0,0.07],[0,0.062],[0,0.059],[0.115,0.085],[0.872,0.109],[0.87,0.1],[0.868,0.115],[0.865,0.125],[0.862,0.135],[0.858,0.145],[0.854,0.155],[0.848,0.165],[0.842,0.175],[0.836,0.185],[0.83,0.195],[0.826,0.205],[0.82,0.21],[0.812,0.205],[0.805,0.21],[0.798,0.215],[0.79,0.21],[0.783,0.215],[0.776,0.222],[0.77,0.23],[0.768,0.215],[0.765,0.2],[0.77,0.19],[0.78,0.195],[0.79,0.2],[0.8,0.205],[0.81,0.2],[0.82,0.21],[0.828,0.2],[0.835,0.19],[0.84,0.185]];

// ---- ticks and labels ----
const Y_TICKS = [0, 0.2, 0.4, 0.6, 0.8, 1.0];
const Y_LABELS = ['0.0', '0.2', '0.4', '0.6', '0.8', '1.0'];
const CUM_TICKS = [0, 0.25, 0.5, 0.75, 1.0];
const CUM_LABELS = ['0.00', '0.25', '0.50', '0.75', '1.00'];
const B_TICKS = [0, 1, 2, 3];
const B_LABELS = ['0', '1', '2', '3'];
const C_TICKS = [0.009, 0.01, 0.02, 0.03, 0.04, 0.05, 0.06, 0.07, 0.08, 0.09, 0.1, 0.2, 0.3, 0.4, 0.5, 0.6, 0.7, 0.8, 0.9, 1];
const C_LABELS = ['', '10⁻²', '', '', '', '', '', '', '', '', '10⁻¹', '', '', '', '', '', '', '', '', '10⁰'];
const C_MAJOR = [0.01, 0.1, 1];
const E_TICKS = [0, 0.5, 1, 1.5, 2];
const E_LABELS = ['0.0', '0.5', '1.0', '1.5', '2.0'];
const F_NUMERALS = [['I', 0.46, 0.96], ['II', 0.967, 0.96], ['III', 0.423, 0.425], ['IV', 0.968, 0.425]];

// axis titles: [text, style]  r=regular, m=math upright, i=math italic, _=subscript, ^=superscript
const X_CUM = [['Cum(', 'r'], ['n', 'i'], ['CO, t', 'i_'], [')', 'r'], ['*', 'r^']];
const X_SK_CO = [['⟨', 'm'], ['s', 'i'], ['⟩', 'm'], ['CO', 'i_'], [' - ', 'r'], ['⟨', 'm'], ['k', 'i'], ['⟩', 'm'], ['CO', 'i_']];
const X_SK_PE = [['⟨', 'm'], ['s', 'i'], ['⟩', 'm'], ['PE', 'i_'], [' - ', 'r'], ['⟨', 'm'], ['k', 'i'], ['⟩', 'm'], ['PE', 'i_']];
const X_DELTA = [['δ', 'i']];
const X_CRA = [['C', 'i'], ['RA', 'i_']];
const Y_PHI_CT = [['ϕ', 'i'], ['C, t', 'i_']];
const Y_PHI_C = [['ϕ', 'i'], ['C', 'i_']];
const Y_DIST = [['ϕ', 'i'], [['max', 'C, t'], 'i^_'], [' − ', 'm'], ['ϕ', 'i'], ['C, t', 'i_']];

const CASE_RGB = ['255,69,0', '65,105,225', '0,128,0', '255,165,0'];
const GRID = '#d0d0d0';
const TXT = '"Liberation Sans", Arial, "DejaVu Sans", sans-serif';
const MATH = '"DejaVu Sans", sans-serif';

const PANELS = [
  { id: 'pA', L: 124, T: 76, W: 330, xmin: -0.05, xmax: 1.05, xticks: CUM_TICKS, xlabels: CUM_LABELS,
    series: [A_VERACRUZ, A_PUEBLA, A_GUANAJUATO, A_FEDERATION],
    letter: 'A', lpos: [64, 84], box: [40, 67, 36, 35], arrows: [[68.3, 185, 68.3, 117]],
    ytitle: Y_PHI_CT, ypos: [67.5, 228], xtitle: X_CUM, xpos: [289, 440] },
  { id: 'pB', L: 554, T: 76, W: 329, xmin: -0.146, xmax: 3.549, xticks: B_TICKS, xlabels: B_LABELS,
    series: [B_VERACRUZ, B_PUEBLA, B_GUANAJUATO, B_FEDERATION],
    letter: 'B', lpos: [492, 83], box: [467, 66, 35, 35], arrows: [[492.7, 185, 492.7, 116]],
    ytitle: Y_PHI_C, ypos: [497, 228], xtitle: X_SK_CO, xpos: [718.5, 440] },
  { id: 'pC', L: 982, T: 76, W: 331, log: true, xmin: 0.00804, xmax: 1.213, xticks: C_TICKS, xlabels: C_LABELS, xmajor: C_MAJOR,
    series: [C_VERACRUZ, C_PUEBLA, C_GUANAJUATO, C_FEDERATION],
    letter: 'C', lpos: [921.7, 83], box: [900, 66, 33, 35], arrows: [[922.7, 185, 922.7, 116]],
    ytitle: Y_PHI_C, ypos: [926, 228], xtitle: X_DELTA, xpos: [1147, 437] },
  { id: 'pD', L: 125, T: 472, W: 329, xmin: -0.05, xmax: 1.05, xticks: CUM_TICKS, xlabels: CUM_LABELS,
    series: [D_VERACRUZ, D_PUEBLA, D_GUANAJUATO, D_FEDERATION],
    letter: 'D', lpos: [65, 475], box: [40, 457, 37, 36], arrows: [[68.3, 720, 68.3, 788.3]],
    ytitle: Y_DIST, ypos: [66, 630], xtitle: X_CUM, xpos: [289.5, 835] },
  { id: 'pE', L: 554, T: 472, W: 329, xmin: -0.093, xmax: 2.097, xticks: E_TICKS, xlabels: E_LABELS,
    series: [E_VERACRUZ, E_PUEBLA, E_GUANAJUATO, E_FEDERATION],
    letter: 'E', lpos: [491, 475], box: [467, 460, 34, 34], arrows: [[497.3, 578.3, 497.3, 510]],
    ytitle: Y_PHI_C, ypos: [497.5, 627], xtitle: X_SK_PE, xpos: [718.5, 835] },
  { id: 'pF', L: 982, T: 472, W: 331, xmin: -0.05, xmax: 1.05, xticks: CUM_TICKS, xlabels: CUM_LABELS, vline: 0.5, numerals: F_NUMERALS,
    series: [F_VERACRUZ, F_PUEBLA, F_GUANAJUATO, F_FEDERATION],
    letter: 'F', lpos: [920, 475], box: [900, 460, 32, 34], arrows: [[925, 578, 925, 510], [1197.7, 830.7, 1266.7, 830.7]],
    ytitle: Y_PHI_C, ypos: [926, 625], xtitle: X_CRA, xpos: [1148, 835] }
];
const PLOT_H = 306, PAD_L = 110, PAD_T = 20, PAD_R = 30, PAD_B = 90;
const BY_ID = {};
PANELS.forEach(p => { BY_ID[p.id] = p; });

function drawRich(ctx, segs, size, x, y, rot) {
  ctx.save();
  ctx.translate(x, y);
  if (rot) ctx.rotate(rot);
  ctx.textAlign = 'left';
  ctx.textBaseline = 'alphabetic';
  const parts = segs.map(([t, st]) => {
    const it = st.includes('i'), math = it || st.includes('m');
    const small = st.includes('_') || st.includes('^');
    ctx.font = `${it ? 'italic ' : ''}${small ? Math.round(size * 0.7) : size}px ${math ? MATH : TXT}`;
    const font = ctx.font;
    const w = Array.isArray(t) ? Math.max(ctx.measureText(t[0]).width, ctx.measureText(t[1]).width) : ctx.measureText(t).width;
    return { t, st, font, w: w + (small ? 1 : 0) };
  });
  const total = parts.reduce((s, q) => s + q.w, 0);
  let cx = -total / 2;
  parts.forEach(q => {
    ctx.font = q.font;
    if (Array.isArray(q.t)) {
      ctx.fillText(q.t[0], cx, -size * 0.42);
      ctx.fillText(q.t[1], cx, size * 0.24);
    } else {
      const dy = q.st.includes('_') ? size * 0.24 : q.st.includes('^') ? -size * 0.42 : 0;
      ctx.fillText(q.t, cx, dy);
    }
    cx += q.w;
  });
  ctx.restore();
}

function drawArrow(ctx, x0, y0, x1, y1) {
  const len = Math.hypot(x1 - x0, y1 - y0);
  const dx = (x1 - x0) / len, dy = (y1 - y0) / len;
  const nx = -dy, ny = dx;
  const hl = 21, hw = 7.5, sw = 2.3;
  const bx = x1 - dx * hl, by = y1 - dy * hl;
  ctx.beginPath();
  ctx.moveTo(x0 + nx * sw, y0 + ny * sw);
  ctx.lineTo(bx + nx * sw, by + ny * sw);
  ctx.lineTo(bx + nx * hw, by + ny * hw);
  ctx.lineTo(x1, y1);
  ctx.lineTo(bx - nx * hw, by - ny * hw);
  ctx.lineTo(bx - nx * sw, by - ny * sw);
  ctx.lineTo(x0 - nx * sw, y0 - ny * sw);
  ctx.closePath();
  ctx.fill();
}

const deco = {
  id: 'deco',
  beforeDatasetsDraw(chart) {
    const p = BY_ID[chart.canvas.id];
    const { ctx, chartArea: a, scales } = chart;
    ctx.save();
    ctx.strokeStyle = '#3a3a3a';
    ctx.lineWidth = 1.6;
    ctx.setLineDash([7, 3.5]);
    const y5 = scales.y.getPixelForValue(0.5);
    ctx.beginPath(); ctx.moveTo(a.left, y5); ctx.lineTo(a.right, y5); ctx.stroke();
    if (p.vline != null) {
      const x5 = scales.x.getPixelForValue(p.vline);
      ctx.beginPath(); ctx.moveTo(x5, a.top); ctx.lineTo(x5, a.bottom); ctx.stroke();
    }
    ctx.restore();
  },
  afterDraw(chart) {
    const p = BY_ID[chart.canvas.id];
    const { ctx, chartArea: a, scales } = chart;
    const X = v => v - p.L + a.left, Y = v => v - p.T + a.top;
    ctx.save();
    ctx.strokeStyle = '#333';
    ctx.lineWidth = 1.3;
    ctx.strokeRect(a.left, a.top, a.right - a.left, a.bottom - a.top);

    ctx.fillStyle = '#f3f3f3';
    ctx.fillRect(X(p.box[0]), Y(p.box[1]), p.box[2], p.box[3]);
    ctx.fillStyle = '#000';
    ctx.font = `bold 23px ${TXT}`;
    ctx.textAlign = 'center';
    ctx.textBaseline = 'middle';
    ctx.fillText(p.letter, X(p.lpos[0]), Y(p.lpos[1]));

    p.arrows.forEach(([x0, y0, x1, y1]) => drawArrow(ctx, X(x0), Y(y0), X(x1), Y(y1)));

    ctx.fillStyle = '#111';
    drawRich(ctx, p.xtitle, 26, X(p.xpos[0]), Y(p.xpos[1]), 0);
    drawRich(ctx, p.ytitle, 27, X(p.ypos[0]), Y(p.ypos[1]), -Math.PI / 2);

    if (p.numerals) {
      ctx.font = '27px "Liberation Serif", "DejaVu Serif", serif';
      ctx.textAlign = 'center';
      ctx.textBaseline = 'middle';
      p.numerals.forEach(([t, vx, vy]) => ctx.fillText(t, scales.x.getPixelForValue(vx), scales.y.getPixelForValue(vy)));
    }
    ctx.restore();
  }
};

const fig = document.getElementById('fig');
PANELS.forEach(p => {
  const cv = document.createElement('canvas');
  const cw = p.W + PAD_L + PAD_R, ch = PLOT_H + PAD_T + PAD_B;
  cv.id = p.id;
  cv.width = cw;
  cv.height = ch;
  cv.style.cssText = `position:absolute;left:${p.L - PAD_L}px;top:${p.T - PAD_T}px;width:${cw}px;height:${ch}px`;
  fig.appendChild(cv);
  const major = p.xmajor || p.xticks;

  new Chart(cv, {
    type: 'scatter',
    data: {
      datasets: p.series.map((s, k) => ({
        data: s.map(([x, y]) => ({ x, y })),
        showLine: true,
        order: 4 - k,
        borderColor: `rgba(${CASE_RGB[k]},0.55)`,
        borderWidth: 1.5,
        borderDash: [5, 3],
        pointRadius: 4,
        pointHoverRadius: 4,
        pointBackgroundColor: `rgba(${CASE_RGB[k]},0.88)`,
        pointBorderWidth: 0
      }))
    },
    options: {
      responsive: false,
      animation: false,
      events: [],
      layout: { padding: { left: 0, right: PAD_R, top: PAD_T, bottom: 0 } },
      plugins: { legend: { display: false }, tooltip: { enabled: false } },
      scales: {
        x: {
          type: p.log ? 'logarithmic' : 'linear',
          min: p.xmin, max: p.xmax,
          afterBuildTicks: s => { s.ticks = p.xticks.map(v => ({ value: v })); },
          afterFit: s => { s.height = PAD_B; s.paddingLeft = 0; s.paddingRight = 0; },
          ticks: {
            autoSkip: false, maxRotation: 0, minRotation: 0,
            padding: p.log ? 4 : 7, color: '#1a1a1a',
            font: { family: TXT, size: 20 },
            callback: (v, i) => p.xlabels[i]
          },
          grid: {
            color: c => (c.tick && major.includes(c.tick.value)) ? GRID : 'rgba(0,0,0,0)',
            lineWidth: 1.2, drawTicks: !!p.log, tickLength: 4, tickColor: '#333', tickWidth: 1
          },
          border: { display: false, dash: [6, 3.5] }
        },
        y: {
          min: -0.05, max: 1.05,
          afterBuildTicks: s => { s.ticks = Y_TICKS.map(v => ({ value: v })); },
          afterFit: s => { s.width = PAD_L; s.paddingTop = 0; s.paddingBottom = 0; },
          ticks: { padding: 10, color: '#1a1a1a', font: { family: TXT, size: 20 }, callback: (v, i) => Y_LABELS[i] },
          grid: { color: GRID, lineWidth: 1.2, drawTicks: false },
          border: { display: false, dash: [6, 3.5] }
        }
      }
    },
    plugins: [deco]
  });
});

// squeeze the html text to the widths of the original
function fit(id, w) {
  const el = document.getElementById(id);
  const r = el.getBoundingClientRect().width;
  const k = w / r;
  el.style.transform = `scaleX(${k})`;
  return k;
}
fit('lg1', 184); fit('lg2', 162); fit('lg3', 211); fit('lg4', 202);
fit('cap1', 1256);
fit('cap2', 1298);
const k3 = fit('cap3', 1298);
document.getElementById('cap4').style.transform = `scaleX(${k3})`;
</script>
</body>
</html>
